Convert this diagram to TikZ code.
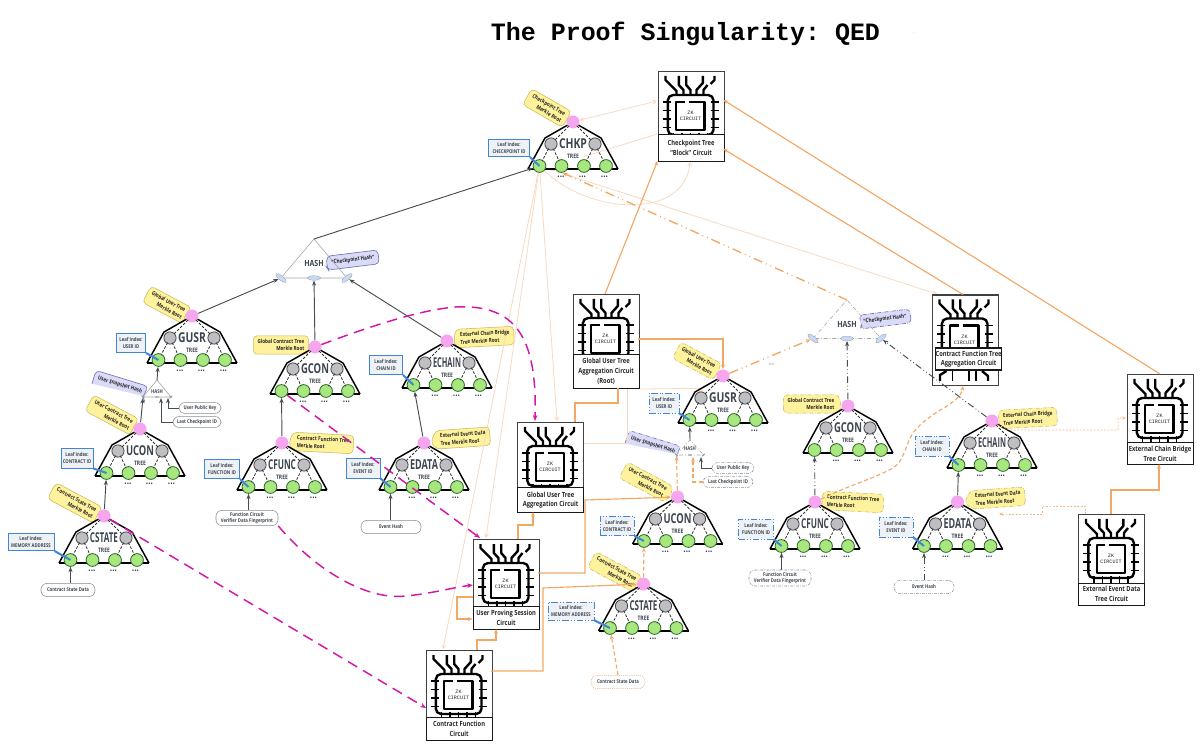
\documentclass[tikz,border=0pt]{standalone}
\usepackage{xcolor}
\usepackage{fontspec}
\setmainfont[FakeStretch=0.82]{Open Sans}
\newfontfamily\chipmono{Liberation Mono}
\usepackage{tikz}
\usetikzlibrary{arrows.meta,shapes.geometric}
\frenchspacing

\definecolor{inkslate}{HTML}{3C4650}
\definecolor{rootpink}{HTML}{F5A6EE}
\definecolor{nodegray}{HTML}{BEBEC3}
\definecolor{leafgreen}{HTML}{A8E67E}
\definecolor{leafedge}{HTML}{2E6B2E}
\definecolor{tagyellow}{HTML}{FFF29C}
\definecolor{tagedge}{HTML}{C9B85E}
\definecolor{tagpurple}{HTML}{D9DBF8}
\definecolor{purpleedge}{HTML}{6F77B5}
\definecolor{leafblue}{HTML}{3F86D6}
\definecolor{leaffill}{HTML}{EEF1F6}
\definecolor{blobblue}{HTML}{C8DAF3}
\definecolor{flowmagenta}{HTML}{D416A8}
\definecolor{floworange}{HTML}{F2A765}
\definecolor{flowpale}{HTML}{F9D9BF}
\definecolor{linkdark}{HTML}{474C52}

\pgfdeclarelayer{tagback}
\pgfsetlayers{tagback,main}

\tikzset{
  treeline/.style={draw=black,line width=1.1pt},
  treedash/.style={draw=black!80,line width=.6pt,dash pattern={on 2pt off 1.2pt},shorten >=-1pt,shorten <=-1pt},
  rootdot/.style={circle,fill=rootpink,minimum size=9.8pt,inner sep=0pt},
  graydot/.style={circle,draw=black!75,fill=nodegray,line width=.6pt,minimum size=9.2pt,inner sep=0pt},
  leafdot/.style={circle,draw=leafedge,fill=leafgreen,line width=.6pt,minimum size=9.6pt,inner sep=0pt},
  treetitle/.style={inner sep=0pt,text=inkslate},
  treesub/.style={inner sep=0pt,text=inkslate,font=\bfseries\fontsize{4.6}{5}\selectfont},
  treedots/.style={inner sep=0pt,text=inkslate,font=\bfseries\fontsize{7.5}{8}\selectfont},
  tagtext/.style={inner xsep=3pt,inner ysep=2.2pt,minimum height=10pt,text=black!85,font=\bfseries\fontsize{4.2}{5.8}\selectfont},
  tagalign east/.style={align=right},
  tagalign west/.style={align=left},
  yellowtag/.style={draw=tagedge,fill=tagyellow,line width=.4pt},
  yellowtagdash/.style={yellowtag,dash pattern={on 3pt off 1pt on .5pt off 1pt}},
  purpletag/.style={draw=purpleedge,fill=tagpurple,line width=.5pt},
  purpletagdash/.style={purpletag,dash pattern={on 3pt off 1pt on .5pt off 1pt}},
  leafbox/.style={draw=leafblue,fill=leaffill,line width=.7pt,inner sep=0pt,align=center,text=inkslate,font=\bfseries\fontsize{3.9}{5.6}\selectfont},
  leafboxdash/.style={leafbox,dash pattern={on 5pt off 1.5pt on .6pt off 1.5pt on .6pt off 1.5pt}},
  leafptr/.style={draw=leafblue,line width=1.5pt},
  datapill/.style={draw=black!45,fill=white,line width=.4pt,rounded corners=4.5pt,inner sep=0pt,align=center,text=inkslate,font=\bfseries\fontsize{3.9}{5}\selectfont},
  datapilldash/.style={datapill,dash pattern={on 2pt off 1pt on .5pt off 1pt}},
  datapilldot/.style={datapill,draw=floworange,dash pattern={on .8pt off .8pt}},
  hashline/.style={draw=black!35,line width=.45pt},
  hashlinedash/.style={hashline,dash pattern={on 3pt off 1.5pt on .5pt off 1.5pt}},
  hashblob/.style={ellipse,fill=blobblue,draw=blobblue!70!black,line width=.2pt,minimum width=10pt,minimum height=3.4pt,inner sep=0pt},
  hashspeck/.style={ellipse,fill=blobblue!70!black,minimum width=3pt,minimum height=1pt,inner sep=0pt},
  hashbig/.style={inner sep=0pt,text=inkslate,font=\bfseries\fontsize{6.4}{7}\selectfont},
  hashsmall/.style={inner sep=0pt,text=inkslate,font=\bfseries\fontsize{3.9}{4}\selectfont},
  chipbox/.style={draw=black!75,fill=white,line width=.8pt,anchor=north west,minimum width=49.5pt,inner sep=0pt},
  chipwire/.style={draw=black,line width=1.8pt,line join=round},
  chippin/.style={draw=black,line width=1.4pt},
  chiplabel/.style={draw=black!90,fill=white,line width=.9pt,anchor=north west,minimum width=49.5pt,inner sep=0pt,align=center,text=black!85,font=\bfseries\fontsize{5.3}{7.4}\selectfont},
  chipword/.style={inner sep=0pt,align=center,text=black!85,font=\chipmono\fontsize{3.8}{4.6}\selectfont},
  treelink/.style={draw=linkdark,line width=.7pt,-{Stealth[length=4pt,width=3pt]}},
  treelinkdash/.style={treelink,dash pattern={on 5pt off 2pt on .6pt off 2pt on .6pt off 2pt}},
  magentaflow/.style={draw=flowmagenta,line width=1.1pt,dash pattern={on 8pt off 5pt},-{Stealth[length=4.5pt,width=3.5pt]}},
  orangeflow/.style={draw=floworange,line width=.85pt,-{Stealth[length=3.5pt,width=3pt]}},
  orangeplain/.style={draw=floworange,line width=.85pt},
  orangedashdot/.style={draw=floworange,line width=1pt,dash pattern={on 7pt off 3pt on .7pt off 3pt on .7pt off 3pt},-{Stealth[length=3.5pt,width=3pt]}},
  orangedash/.style={draw=floworange,line width=.85pt,dash pattern={on 3pt off 2pt},-{Stealth[length=3.5pt,width=3pt]}},
  orangedot/.style={draw=floworange!80,line width=.6pt,dash pattern={on 1.4pt off 1.2pt},-{Stealth[length=3pt,width=2.5pt]}},
  paleflow/.style={draw=flowpale,line width=.6pt,-{Straight Barb[length=2.5pt,width=3pt]}},
  paleboth/.style={draw=flowpale,line width=.6pt,{Straight Barb[length=2.5pt,width=3pt]}-{Straight Barb[length=2.5pt,width=3pt]}},
  paleplain/.style={draw=flowpale,line width=.6pt},
}

% name, x, y, title
\newcommand{\treeblock}[4]{%
\begin{scope}[shift={(#2,#3)}]
\draw[treeline] (-45,47) -- (45,47) ;
\draw[treeline] (-45,47) -- (-28,16) -- (0,0) ;
\draw[treeline] (45,47) -- (28,16) -- (0,0) ;
\node[graydot] (#1graya) at (-22,22) {};
\node[graydot] (#1grayb) at (22,22) {};
\node[leafdot] (#1leafa) at (-33.5,44) {};
\node[leafdot] (#1leafb) at (-11.5,44) {};
\node[leafdot] (#1leafc) at (11,44) {};
\node[leafdot] (#1leafd) at (33,44) {};
\node[rootdot] (#1root) at (0,0) {};
\draw[treedash] (#1root) -- (#1graya) ;
\draw[treedash] (#1root) -- (#1grayb) ;
\draw[treedash] (#1graya) -- (#1leafa) ;
\draw[treedash] (#1graya) -- (#1leafb) ;
\draw[treedash] (#1grayb) -- (#1leafc) ;
\draw[treedash] (#1grayb) -- (#1leafd) ;
\node[treetitle] (#1title) at (0,21.5) {\resizebox{21pt}{7.4pt}{\bfseries #4}};
\node[treesub] (#1sub) at (0,34) {TREE};
\node[treedots] (#1dotsa) at (-12,55) {...};
\node[treedots] (#1dotsb) at (9.5,55) {...};
\node[treedots] (#1dotsc) at (31.5,55) {...};
\end{scope}}

% name, x, y, height, label x, label y, label height, label text
\newcommand{\chipblock}[8]{%
\begin{scope}[shift={(#2,#3)}]
\node[chipbox,minimum height=#4*0.75pt] (#1) at (0,0) {};
\draw[chipwire] (8,5) -- (8,9) -- (19,20) -- (19,24) ;
\draw[chipwire] (21.3,5) -- (21.3,14) -- (26,19) -- (26,24) ;
\draw[chipwire] (28.7,5) -- (28.7,14) -- (33,19) -- (33,24) ;
\draw[chipwire] (45.3,5) -- (45.3,12) -- (39,19) -- (39,24) ;
\draw[chipwire] (57,5) -- (57,9) -- (53,13) ;
\draw[chipwire] (50,14) -- (46,19) -- (46,24) ;
\draw[chipwire,rounded corners=4pt] (10.3,64) -- (10.3,24) -- (56,24) -- (56,64) -- cycle ;
\draw[chipwire] (27,31) -- (18.7,31) -- (18.7,59) -- (47,59) -- (47,31) -- (31,31) ;
\draw[chippin] (5,31) -- (13,31) ;
\draw[chippin] (5,39.5) -- (13,39.5) ;
\draw[chippin] (5,48) -- (13,48) ;
\draw[chippin] (5,56.5) -- (13,56.5) ;
\draw[chippin] (53,31) -- (61,31) ;
\draw[chippin] (53,39.5) -- (61,39.5) ;
\draw[chippin] (53,48) -- (61,48) ;
\draw[chippin] (53,56.5) -- (61,56.5) ;
\draw[chippin] (16,62) -- (16,69) ;
\draw[chippin] (24.5,62) -- (24.5,69) ;
\draw[chippin] (33,62) -- (33,69) ;
\draw[chippin] (41.5,62) -- (41.5,69) ;
\draw[chippin] (50,62) -- (50,69) ;
\node[chipword] (#1word) at (33,45) {ZK\\CIRCUIT};
\node[chiplabel,minimum height=#7*0.75pt] (#1label) at (#5,#6) {#8};
\end{scope}}

% name, line style, x, y, half width, height, blob style, label style, label offset
\newcommand{\hashblock}[9]{%
\begin{scope}[shift={(#3,#4)}]
\coordinate (#1apex) at (0,0);
\draw[#2] (-#5,#6) -- (0,0) -- (#5,#6) -- cycle ;
\node[#7,rotate=-40] (#1left) at (-#5,#6) {};
\node[#7] (#1mid) at (0,#6) {};
\node[#7,rotate=40] (#1right) at (#5,#6) {};
\node[#8] (#1word) at (0,#9) {HASH};
\end{scope}}

% name, style, x, y, rotation, text, tip side, far side, tip target
\newcommand{\tagbox}[9]{%
\node[tagtext,tagalign #7,rotate=#5] (#1) at (#3,#4) {#6};
\begin{pgfonlayer}{tagback}
\path[#2,rounded corners=3pt] (#1.south #8) -- (#1.north #8) -- (#1.north #7) -- (#9) -- (#1.south #7) -- cycle ;
\end{pgfonlayer}}

% name, style, x, y, width, height, text, leaf
\newcommand{\leafindex}[8]{%
\node[#2,minimum width=#5*0.75pt,minimum height=#6*0.75pt] (#1) at (#3,#4) {#7};
\draw[leafptr] (#1.south east) -- (#8.center) ;}

\begin{document}
\begin{tikzpicture}[x=0.75pt,y=0.75pt,yscale=-1,xscale=1]
\useasboundingbox (0,0) rectangle (1200,748);

% Text Node
\node[font=\chipmono\bfseries\fontsize{18.7}{22}\selectfont,inner sep=0pt] (plottitle) at (685.5,34) {The Proof Singularity: QED};
\node[font=\fontsize{3}{3}\selectfont,text=black!60,inner sep=0pt] (plotspeck) at (914,33) {.};

%Shape: Trees left
\treeblock{lgusr}{192}{316}{GUSR}
\treeblock{lucon}{140}{429}{UCON}
\treeblock{lcstate}{104}{516}{CSTATE}
\treeblock{lgcon}{315}{347}{GCON}
\treeblock{lcfunc}{282}{443}{CFUNC}
\treeblock{lechain}{447}{341}{ECHAIN}
\treeblock{ledata}{424}{443}{EDATA}
%Shape: Tree top
\treeblock{chkp}{573}{122}{CHKP}
%Shape: Trees right
\treeblock{rgusr}{723}{376}{GUSR}
\treeblock{rucon}{677.5}{497}{UCON}
\treeblock{rcstate}{643.5}{584}{CSTATE}
\treeblock{rgcon}{848}{406}{GCON}
\treeblock{rcfunc}{815}{502}{CFUNC}
\treeblock{rechain}{992}{421}{ECHAIN}
\treeblock{redata}{957.5}{502}{EDATA}

%Shape: Circuits
\chipblock{chipchkp}{657.5}{71}{90}{0}{63}{27}{Checkpoint Tree\\``Block'' Circuit}
\chipblock{chiproot}{572.5}{294}{94}{0}{60}{34}{Global User Tree\\Aggregation Circuit\\(Root)}
\chipblock{chipglobal}{517}{422}{90}{0}{65}{25}{Global User Tree\\Aggregation Circuit}
\chipblock{chipsession}{472.5}{539}{90}{0}{67}{23}{User Proving Session\\Circuit}
\chipblock{chipfunc}{425.5}{650}{90}{0}{67}{23}{Contract Function\\Circuit}
\chipblock{chipagg}{931.5}{294.5}{90.5}{3.5}{53}{22}{Contract Function Tree\\Aggregation Circuit}
\chipblock{chipbridge}{1126.5}{374}{90}{0}{68}{22}{External Chain Bridge\\Tree Circuit}
\chipblock{chipevent}{1078}{514}{90.5}{0}{68.5}{22}{External Event Data\\Tree Circuit}
%Straight Lines under the aggregation label
\draw[chipwire] (940,381) -- (940,375) -- (946.5,371) ;
\draw[chippin] (952.5,371) -- (952.5,381) ;
\draw[chipwire] (969,371) -- (969,381) ;
\draw[chipwire] (976,371) -- (976,381) ;
\draw[chipwire] (982,371) -- (988,376) -- (988,381) ;

%Shape: Hash triangles
\hashblock{lhash}{hashline}{314}{239}{33}{39}{hashblob}{hashbig}{24}
\hashblock{rhash}{hashlinedash}{847}{300}{34}{38.5}{hashblob}{hashbig}{24}
\hashblock{lsmallhash}{hashline}{157}{380}{14}{17}{hashspeck}{hashsmall}{12}
\hashblock{rsmallhash}{hashlinedash}{690}{440}{13.5}{15}{hashspeck}{hashsmall}{9}

%Shape: Root tags left
\tagbox{tagchkp}{yellowtag}{547}{108}{-30}{Checkpoint Tree\\Merkle Root}{east}{west}{chkproot.165}
\tagbox{taglgusr}{yellowtag}{167}{305}{-28}{Global User Tree\\Merkle Root}{east}{west}{lgusrroot.165}
\tagbox{taglucon}{yellowtag}{112}{415}{-28}{User Contract Tree\\Merkle Root}{east}{west}{luconroot.165}
\tagbox{taglcstate}{yellowtag}{75}{503}{-28}{Contract State Tree\\Merkle Root}{east}{west}{lcstateroot.165}
\tagbox{taglgcon}{yellowtag}{281}{345}{0}{Global Contract Tree\\Merkle Root}{east}{west}{lgconroot.west}
\tagbox{taglcfunc}{yellowtag}{323}{443}{-3}{Contract Function Tree\\Merkle Root}{west}{east}{lcfuncroot.east}
\tagbox{taglechain}{yellowtag}{485}{337}{3}{External Chain Bridge\\Tree Merkle Root}{west}{east}{lechainroot.east}
\tagbox{tagledata}{yellowtag}{463}{438}{4}{External Event Data\\Tree Merkle Root}{west}{east}{ledataroot.east}
%Shape: Root tags right
\tagbox{tagrgusr}{yellowtagdash}{697}{361}{-28}{Global User Tree\\Merkle Root}{east}{west}{rgusrroot.165}
\tagbox{tagrucon}{yellowtagdash}{646}{482}{-28}{User Contract Tree\\Merkle Root}{east}{west}{ruconroot.165}
\tagbox{tagrcstate}{yellowtagdash}{615}{572}{-28}{Contract State Tree\\Merkle Root}{east}{west}{rcstateroot.165}
\tagbox{tagrgcon}{yellowtagdash}{811}{404}{0}{Global Contract Tree\\Merkle Root}{east}{west}{rgconroot.west}
\tagbox{tagrcfunc}{yellowtagdash}{853}{502}{-3}{Contract Function Tree\\Merkle Root}{west}{east}{rcfuncroot.east}
\tagbox{tagrechain}{yellowtagdash}{1028}{418}{3}{External Chain Bridge\\Tree Merkle Root}{west}{east}{rechainroot.east}
\tagbox{tagredata}{yellowtagdash}{998}{498}{4}{External Event Data\\Tree Merkle Root}{west}{east}{redataroot.east}
%Shape: Hash tags
\coordinate (lhashtip) at (327,268);
\coordinate (rhashtip) at (862,325);
\tagbox{taglsnap}{purpletag}{120}{385}{-17}{User Snapshot Hash}{east}{west}{lsmallhashleft}
\tagbox{tagrsnap}{purpletagdash}{653}{445}{-17}{User Snapshot Hash}{east}{west}{rsmallhashleft}
\tagbox{taglhash}{purpletag}{353}{260}{7}{``Checkpoint Hash''}{west}{east}{lhashtip}
\tagbox{tagrhash}{purpletagdash}{885}{319}{7}{``Checkpoint Hash''}{west}{east}{rhashtip}

%Shape: Leaf index boxes
\leafindex{idxchkp}{leafbox}{509}{148}{41}{17}{Leaf Index:\\CHECKPOINT ID}{chkpleafa}
\leafindex{idxlgusr}{leafbox}{131}{343}{29}{19}{Leaf Index:\\USER ID}{lgusrleafa}
\leafindex{idxlucon}{leafbox}{77}{458}{32}{20}{Leaf Index:\\CONTRACT ID}{luconleafa}
\leafindex{idxlcstate}{leafbox}{31}{542}{46}{17}{Leaf Index:\\MEMORY ADDRESS}{lcstateleafa}
\leafindex{idxlcfunc}{leafbox}{222}{469}{35}{19}{Leaf Index:\\FUNCTION ID}{lcfuncleafa}
\leafindex{idxledata}{leafbox}{363}{468}{34}{20}{Leaf Index:\\EVENT ID}{ledataleafa}
\leafindex{idxlechain}{leafbox}{386}{365}{33}{19}{Leaf Index:\\CHAIN ID}{lechainleafa}
\leafindex{idxrgusr}{leafboxdash}{664}{403}{30}{20}{Leaf Index:\\USER ID}{rgusrleafa}
\leafindex{idxrucon}{leafboxdash}{617}{526}{34}{19}{Leaf Index:\\CONTRACT ID}{ruconleafa}
\leafindex{idxrcstate}{leafboxdash}{571}{611}{46}{18}{Leaf Index:\\MEMORY ADDRESS}{rcstateleafa}
\leafindex{idxrcfunc}{leafboxdash}{756}{529}{35}{20}{Leaf Index:\\FUNCTION ID}{rcfuncleafa}
\leafindex{idxredata}{leafboxdash}{896}{527}{34}{20}{Leaf Index:\\EVENT ID}{redataleafa}
\leafindex{idxrechain}{leafboxdash}{932}{446}{34}{20}{Leaf Index:\\CHAIN ID}{rechainleafa}

% Text Node
\node[datapill,minimum width=40.5pt,minimum height=9.8pt] (datalcstate) at (68,590) {Contract State Data};
\node[datapill,minimum width=31.5pt,minimum height=8.2pt] (datalkey) at (200,408) {User Public Key};
\node[datapill,minimum width=36pt,minimum height=8.2pt] (datalcheck) at (197,422) {Last Checkpoint ID};
\node[datapill,minimum width=46.5pt,minimum height=11.5pt] (datalfunc) at (247,518) {Function Circuit\\Verifier Data Fingerprint};
\node[datapill,minimum width=45pt,minimum height=9.8pt] (datalevent) at (391,527) {Event Hash};
\node[datapilldot,minimum width=40.5pt,minimum height=9.8pt] (datarcstate) at (618,682) {Contract State Data};
\node[datapilldash,minimum width=31.5pt,minimum height=8.2pt] (datarkey) at (733,468) {User Public Key};
\node[datapilldash,minimum width=37.5pt,minimum height=8.2pt] (datarcheck) at (728,482) {Last Checkpoint ID};
\node[datapilldash,minimum width=46.5pt,minimum height=12pt] (datarfunc) at (780,578) {Function Circuit\\Verifier Data Fingerprint};
\node[datapilldash,minimum width=45pt,minimum height=9.8pt] (datarevent) at (924,587) {Event Hash};
\node[font=\fontsize{2.4}{3}\selectfont,text=black!50,inner sep=0pt] (endword) at (771.5,364) {End};

%Straight Lines pale flows
\coordinate (portchkpa) at (657,101);
\coordinate (portchkpb) at (690,162);
\coordinate (porttreeside) at (583,157);
\coordinate (portaggtop) at (937,294);
\coordinate (portglobaltop) at (557,421);
\coordinate (portsessiontop) at (486,538);
\coordinate (portfunctop) at (443,649);
\coordinate (portgray) at (701,394);
\coordinate (portpalebend) at (701,388.3);
\coordinate (portrootpale) at (627,388);
\coordinate (portpaleb) at (627,443);
\coordinate (portglobalpale) at (583,443);
\begin{pgfonlayer}{tagback}
\draw[paleboth] (chkproot) -- (portchkpa) ;
\draw[paleplain] (porttreeside) -- (chipchkplabel.north west) ;
\draw[paleflow] (chkpleafa) .. controls (590,215) and (685,220) .. (portchkpb) ;
\draw[paleflow] (chkpleafa) -- (portaggtop) ;
\draw[paleflow] (chkpleafa) -- (portglobaltop) ;
\draw[paleflow] (chkpleafa) -- (portsessiontop) ;
\draw[paleflow] (chkpleafa) -- (portfunctop) ;
\draw[paleflow] (chiproot.south east) -- (portpalebend) -- (portgray) ;
\draw[paleplain] (portrootpale) -- (portpaleb) -- (portglobalpale) ;
\end{pgfonlayer}

%Straight Lines tree links left
\draw[treelink] (lcstateroot) -- (luconleafa) ;
\draw[treelink] (luconroot) -- (lsmallhashleft) ;
\draw[treelink] (lsmallhashapex) -- (lgusrleafa) ;
\coordinate (lkeybase) at (168,398);
\coordinate (lcheckbase) at (161,398);
\draw[treelink] (datalkey.west) -| (lkeybase) ;
\draw[treelink] (datalcheck.west) -| (lcheckbase) ;
\draw[treelink] (datalcstate.north -| lcstateleafa) -- (lcstateleafa) ;
\draw[treelink] (lgusrroot) -- (lhashleft) ;
\draw[treelink] (lgconroot) -- (lhashmid) ;
\draw[treelink] (lechainroot) -- (lhashright) ;
\draw[treelink] (lcfuncroot) -- (lgconleafa) ;
\draw[treelink] (ledataroot) -- (lechainleafa) ;
\draw[treelink] (datalfunc.north -| lcfuncleafa) -- (lcfuncleafa) ;
\draw[treelink] (datalevent.north -| ledataleafa) -- (ledataleafa) ;
\draw[treelink] (lhashapex) -- (chkpleafa) ;

%Straight Lines magenta flows
\coordinate (portmaga) at (470,307);
\coordinate (portglobalmag) at (535,421);
\coordinate (portmagb) at (405,596);
\coordinate (portsessionmag) at (473,585);
\coordinate (portsessionnw) at (480,538);
\coordinate (portfuncmag) at (426,708);
\draw[magentaflow] (lgconroot) .. controls (400,315) and (445,305) .. (portmaga) .. controls (520,310) and (537,345) .. (portglobalmag) ;
\draw[magentaflow] (lgconleafa) -- (portsessionnw) ;
\draw[magentaflow] (datalfunc.south east) .. controls (320,575) and (370,600) .. (portmagb) .. controls (430,594) and (450,588) .. (portsessionmag) ;
\draw[magentaflow] (lcstateroot) -- (portfuncmag) ;

%Straight Lines orange flows
\coordinate (portroottop) at (605,294);
\coordinate (portchkpsw) at (657.5,161);
\coordinate (portglobalout) at (575,422);
\coordinate (portbenda) at (575,403);
\coordinate (portbendb) at (618,403);
\coordinate (portrootbot) at (618,388);
\coordinate (portrootout) at (638,339);
\coordinate (portsessup) at (518,539);
\coordinate (portsessb) at (518,525);
\coordinate (portglobalin) at (533,512);
\coordinate (portsessout) at (538,573);
\coordinate (portsessc) at (585,573);
\coordinate (portsessd) at (585,500);
\coordinate (portfuncup) at (477,650);
\coordinate (portfuncb) at (477,640);
\coordinate (portsessin) at (496,629);
\coordinate (portfuncout) at (491,671);
\coordinate (portfuncc) at (543,671);
\coordinate (portfuncd) at (543,588);
\coordinate (portloopa) at (472.5,597);
\coordinate (portloopb) at (457,597);
\coordinate (portloopc) at (457,619);
\coordinate (portloopd) at (472.5,619);
\coordinate (portchkpr) at (723.5,100);
\coordinate (portchkps) at (723.5,149);
\coordinate (portbridgetop) at (1160,374);
\coordinate (portaggtwo) at (963,294.5);
\coordinate (porteventup) at (1111,514);
\coordinate (porteventb) at (1111,490);
\coordinate (porteventc) at (1159,490);
\coordinate (portbridgein) at (1159,464);
\draw[orangeflow] (portroottop) -- (portchkpsw) ;
\draw[orangeplain] (portglobalout) -- (portbenda) -- (portbendb) -- (portrootbot) ;
\draw[orangeflow] (portrootout) -| (rgusrroot) ;
\draw[orangeflow] (portsessup) -- (portsessb) -- (portglobalin |- portsessb) -- (portglobalin) ;
\draw[orangeflow] (portsessout) -- (portsessc) -- (portsessd) -- (ruconroot) ;
\draw[orangeflow] (portfuncup) -- (portfuncb) -- (portsessin |- portfuncb) -- (portsessin) ;
\draw[orangeflow] (portfuncout) -- (portfuncc) -- (portfuncd) -- (rcstateroot) ;
\draw[orangeflow] (portloopa) -- (portloopb) -- (portloopc) -- (portloopd) ;
\draw[orangeflow] (portbridgetop) -- (portchkpr) ;
\draw[orangeflow] (portaggtwo) -- (portchkps) ;
\draw[orangeflow] (porteventup) -- (porteventb) -- (porteventc) -- (portbridgein) ;

%Straight Lines right group links
\coordinate (portchkpleaf) at (563,173);
\draw[orangedashdot] (rhashapex) -- (portchkpleaf) ;
\draw[orangedashdot] (rgusrroot) -- (rhashleft) ;
\draw[treelinkdash] (rgconroot) -- (rhashmid) ;
\draw[treelinkdash] (rechainroot) -- (rhashright) ;
\draw[treelinkdash] (rcfuncroot) -- (rgconleafa) ;
\draw[treelink] (redataroot) -- (rechainleafa) ;
\draw[treelink] (datarfunc.north -| rcfuncleafa) -- (rcfuncleafa) ;
\draw[treelinkdash] (datarevent.north -| redataleafa) -- (redataleafa) ;
\coordinate (portcurvea) at (893,468);
\coordinate (portcurveb) at (913,433);
\coordinate (portagginb) at (963,386);
\draw[orangedash] (rcfuncroot) .. controls (850,485) and (875,478) .. (portcurvea) .. controls (905,460) and (905,445) .. (portcurveb) .. controls (930,410) and (960,405) .. (portagginb) ;
\draw[orangedash] (ruconroot) -- (rsmallhashleft) ;
\draw[orangedash] (rcstateroot) -- (ruconleafa) ;
\draw[orangedash] (datarcstate.north) -- (rcstateleafa) ;
\draw[treelink] (rsmallhashapex) -- (rgusrleafa) ;
\coordinate (rkeybase) at (701,457);
\coordinate (rcheckbase) at (693,457);
\draw[treelink] (datarkey.west) -| (rkeybase) ;
\draw[orangedash] (datarcheck.west) -| (rcheckbase) ;

%Straight Lines dotted returns
\coordinate (portbendc) at (1010,430);
\coordinate (portbendd) at (1118,430);
\coordinate (portbende) at (1118,418);
\coordinate (portbridgeside) at (1126,418);
\coordinate (porteventa) at (1085,514);
\coordinate (porteventd) at (1085,506);
\coordinate (portevente) at (1042.5,506);
\coordinate (porteventf) at (1042.5,514);
\coordinate (porteventg) at (999,514);
\draw[orangedot] (rechainroot.-35) -- (portbendc) -- (portbendd) -- (portbende) -- (portbridgeside) ;
\draw[orangedot] (porteventa) -- (porteventd) -- (portevente) -- (porteventf) -- (porteventg) ;

\end{tikzpicture}
\end{document}
